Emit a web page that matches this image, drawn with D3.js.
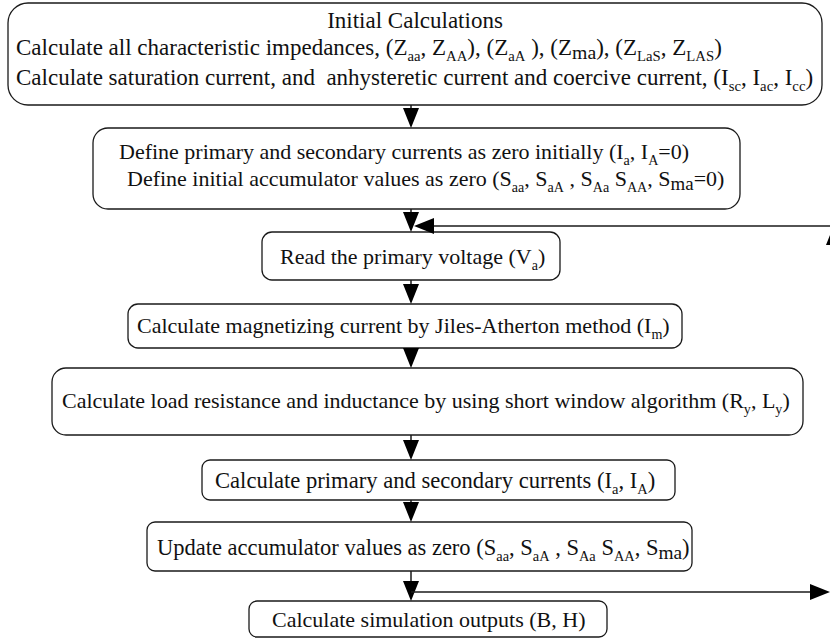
<!DOCTYPE html>
<html>
<head>
<meta charset="utf-8">
<script src="https://cdn.jsdelivr.net/npm/d3@7"></script>
<style>
  html, body { margin: 0; padding: 0; background: #fff; }
  svg { display: block; }
</style>
</head>
<body>
<div id="chart"></div>
<script>
// flowchart text, one array per step
// _{..} = subscript, _[..] = the larger "ma" subscript used in the original
const step1 = [
  'Initial Calculations',
  'Calculate all characteristic impedances, (Z_{aa}, Z_{AA}), (Z_{aA} ), (Z_[ma]), (Z_{LaS}, Z_{LAS})',
  'Calculate saturation current, and  anhysteretic current and coercive current, (I_{sc}, I_{ac}, I_{cc})'
];
const step2 = [
  'Define primary and secondary currents as zero initially (I_{a}, I_{A}=0)',
  'Define initial accumulator values as zero (S_{aa}, S_{aA} , S_{Aa} S_{AA}, S_[ma]=0)'
];
const step3 = ['Read the primary voltage (V_{a})'];
const step4 = ['Calculate magnetizing current by Jiles-Atherton method (I_{m})'];
const step5 = ['Calculate load resistance and inductance by using short window algorithm (R_{y}, L_{y})'];
const step6 = ['Calculate primary and secondary currents (I_{a}, I_{A})'];
const step7 = ['Update accumulator values as zero (S_{aa}, S_{aA} , S_{Aa} S_{AA}, S_[ma])'];
const step8 = ['Calculate simulation outputs (B, H)'];

const steps = [step1, step2, step3, step4, step5, step6, step7, step8];

// box geometry and text placement (layout only); left = null -> centred
const boxes = [
  { x0: 8,   x1: 822, y0: 3,   y1: 105, rx: 20, size: 23, base: [28, 55, 85], left: [null, 16, 16] },
  { x0: 93,  x1: 740, y0: 128, y1: 209, rx: 15, size: 22, base: [159, 186], left: [119, 127] },
  { x0: 262, x1: 560, y0: 232, y1: 280, rx: 10, size: 22, base: [264], left: [280] },
  { x0: 128, x1: 682, y0: 304, y1: 348, rx: 10, size: 22, base: [333], left: [137] },
  { x0: 52,  x1: 803, y0: 368, y1: 435, rx: 14, size: 22, base: [408], left: [62] },
  { x0: 202, x1: 675, y0: 460, y1: 500, rx: 8,  size: 22.6, base: [488], left: [215] },
  { x0: 147, x1: 692, y0: 522, y1: 571, rx: 8,  size: 22.5, base: [555], left: [157] },
  { x0: 249, x1: 607, y0: 601, y1: 637, rx: 8,  size: 22, base: [627], left: [272] }
];

const W = 830, H = 641;
const spineX = 411;
const FONT = '"Liberation Serif", "Times New Roman", serif';

const svg = d3.select('#chart').append('svg')
  .attr('width', W).attr('height', H);

// split "Z_{aa}" style strings into plain / sub pieces
function parseLine(str) {
  const parts = [];
  const re = /_\{([^}]*)\}|_\[([^\]]*)\]/g;
  let last = 0, m;
  while ((m = re.exec(str)) !== null) {
    if (m.index > last) parts.push({ t: str.slice(last, m.index), sub: 0 });
    if (m[1] !== undefined) parts.push({ t: m[1], sub: 1 });
    else parts.push({ t: m[2], sub: 2 });
    last = re.lastIndex;
  }
  if (last < str.length) parts.push({ t: str.slice(last), sub: 0 });
  return parts;
}

function fillLine(t, parts, size) {
  t.attr('font-size', size);
  let shift = 0;
  parts.forEach(p => {
    const ts = t.append('tspan').text(p.t);
    let want = 0;
    if (p.sub === 1) { ts.attr('font-size', size * 0.64); want = size * 0.25; }
    else if (p.sub === 2) { ts.attr('font-size', size * 0.86); want = size * 0.16; }
    ts.attr('dy', want - shift);
    shift = want;
  });
}

// boxes
svg.selectAll('rect.box')
  .data(boxes)
  .enter().append('rect')
  .attr('class', 'box')
  .attr('x', d => d.x0).attr('y', d => d.y0)
  .attr('width', d => d.x1 - d.x0).attr('height', d => d.y1 - d.y0)
  .attr('rx', d => d.rx).attr('ry', d => d.rx)
  .attr('fill', '#fff')
  .attr('stroke', '#1a1a1a')
  .attr('stroke-width', 1.3);

// text lines
steps.forEach((lines, i) => {
  const b = boxes[i];
  lines.forEach((line, j) => {
    const left = b.left[j];
    const t = svg.append('text')
      .attr('x', left == null ? (b.x0 + b.x1) / 2 : left)
      .attr('y', b.base[j])
      .attr('text-anchor', left == null ? 'middle' : 'start')
      .attr('font-family', FONT)
      .attr('fill', '#111')
      .style('white-space', 'pre');
    fillLine(t, parseLine(line), b.size);
  });
});

// arrows
const arrow = (x1, y1, x2, y2) => {
  // line with filled triangular head at (x2, y2)
  const ang = Math.atan2(y2 - y1, x2 - x1);
  const len = 20, half = 8;
  const bx = x2 - len * Math.cos(ang), by = y2 - len * Math.sin(ang);
  svg.append('line')
    .attr('x1', x1).attr('y1', y1).attr('x2', bx).attr('y2', by)
    .attr('stroke', '#1a1a1a').attr('stroke-width', 1.5);
  const px = -Math.sin(ang) * half, py = Math.cos(ang) * half;
  svg.append('path')
    .attr('d', `M${x2},${y2}L${bx + px},${by + py}L${bx - px},${by - py}Z`)
    .attr('fill', '#000');
};

for (let i = 0; i < boxes.length - 1; i++) {
  arrow(spineX, boxes[i].y1, spineX, boxes[i + 1].y0);
}

// loop back: out to the right under step 7, return above step 3
arrow(spineX, 592, 830, 592);
arrow(840, 226, spineX + 3, 226);
arrow(834, 265, 834, 225);
</script>
</body>
</html>
